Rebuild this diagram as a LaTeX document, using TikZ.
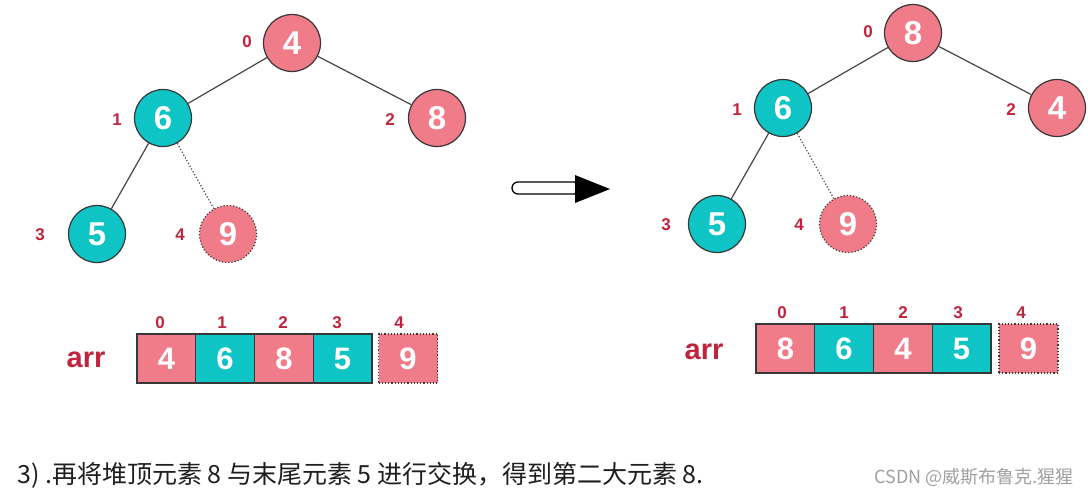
\documentclass[tikz,border=0pt]{standalone}
\usepackage{fontspec}
\setmainfont{Liberation Sans}
\newfontfamily\cjkf{Noto Sans CJK SC}
\definecolor{pk}{RGB}{240,124,138}
\definecolor{tl}{RGB}{14,196,196}
\definecolor{ix}{RGB}{192,36,60}
\definecolor{ed}{RGB}{70,70,70}
\definecolor{bd}{RGB}{55,55,55}
\definecolor{txt}{RGB}{30,30,30}
\definecolor{wmc}{RGB}{160,160,160}
\tikzset{
 hnode/.style={circle, minimum size=57pt, inner sep=0pt, draw=bd, line width=1.2pt, text=white, font=\fontsize{33}{33}\selectfont\bfseries},
 pknode/.style={hnode, fill=pk},
 tlnode/.style={hnode, fill=tl},
 ghost/.style={hnode, fill=pk, dotted},
 idx/.style={text=ix, font=\fontsize{17}{17}\selectfont\bfseries, inner sep=0pt},
 edge/.style={draw=ed, line width=1.2pt},
 gedge/.style={draw=ed, line width=1.2pt, dotted},
 cell/.style={rectangle, minimum width=58.75pt, minimum height=49pt, inner sep=0pt, draw=bd, line width=1.2pt, text=white, font=\fontsize{31}{31}\selectfont\bfseries},
 pkcell/.style={cell, fill=pk},
 tlcell/.style={cell, fill=tl},
 gcell/.style={cell, fill=pk, dotted, minimum width=59pt},
 arrlab/.style={text=ix, font=\fontsize{29}{29}\selectfont\bfseries, inner sep=0pt}
}
\begin{document}
\begin{tikzpicture}[x=1pt,y=-1pt]
\useasboundingbox[fill=white] (0,0) rectangle (1088,496);
% left tree
\node[pknode] (a0) at (292,43) {4};
\node[tlnode] (a1) at (163,118) {6};
\node[pknode] (a2) at (437,118) {8};
\node[tlnode] (a3) at (97,234) {5};
\node[ghost] (a4) at (228,234) {9};
\draw[edge] (a0) -- (a1);
\draw[edge] (a0) -- (a2);
\draw[edge] (a1) -- (a3);
\draw[gedge] (a1) -- (a4);
\node[idx] (ia0) at (247,42) {0};
\node[idx] (ia1) at (117,120) {1};
\node[idx] (ia2) at (390,120) {2};
\node[idx] (ia3) at (40,235) {3};
\node[idx] (ia4) at (180,235) {4};
% right tree
\node[pknode] (b0) at (913,33) {8};
\node[tlnode] (b1) at (783,108) {6};
\node[pknode] (b2) at (1057,108) {4};
\node[tlnode] (b3) at (717,224) {5};
\node[ghost] (b4) at (848,224) {9};
\draw[edge] (b0) -- (b1);
\draw[edge] (b0) -- (b2);
\draw[edge] (b1) -- (b3);
\draw[gedge] (b1) -- (b4);
\node[idx] (ib0) at (868,32) {0};
\node[idx] (ib1) at (737,110) {1};
\node[idx] (ib2) at (1011,110) {2};
\node[idx] (ib3) at (666,225) {3};
\node[idx] (ib4) at (799,225) {4};
% arrow
\draw[line width=1.3pt, fill=white, rounded corners=6pt] (512,182) rectangle (580,194);
\fill (575,175) -- (610,189) -- (575,203) -- cycle;
% left array
\node[arrlab] (larr) at (86,360) {arr};
\node[pkcell] (l0) at (166.4,358.5) {4};
\node[tlcell] (l1) at (225.1,358.5) {6};
\node[pkcell] (l2) at (283.9,358.5) {8};
\node[tlcell] (l3) at (342.6,358.5) {5};
\node[gcell] (l4) at (408,358.5) {9};
\node[idx] (li0) at (160,323) {0};
\node[idx] (li1) at (222,323) {1};
\node[idx] (li2) at (283,323) {2};
\node[idx] (li3) at (337,323) {3};
\node[idx] (li4) at (399,323) {4};
% right array
\node[arrlab] (rarr) at (704,352) {arr};
\node[pkcell] (r0) at (785.4,348.5) {8};
\node[tlcell] (r1) at (844.1,348.5) {6};
\node[pkcell] (r2) at (902.9,348.5) {4};
\node[tlcell] (r3) at (961.6,348.5) {5};
\node[gcell] (r4) at (1028.5,348.5) {9};
\node[idx] (ri0) at (782,313) {0};
\node[idx] (ri1) at (844,313) {1};
\node[idx] (ri2) at (903,313) {2};
\node[idx] (ri3) at (958,313) {3};
\node[idx] (ri4) at (1021,313) {4};
% caption
\node[anchor=west, inner sep=0pt, text=txt, font=\cjkf\fontsize{25}{25}\selectfont] (cap) at (17,475) {3) .再将堆顶元素 8 与末尾元素 5 进行交换，得到第二大元素 8.};
\node[anchor=east, inner sep=0pt, text=wmc, font=\cjkf\fontsize{18}{18}\selectfont] (wm) at (1074,477) {CSDN @威斯布鲁克.猩猩};
\end{tikzpicture}
\end{document}
